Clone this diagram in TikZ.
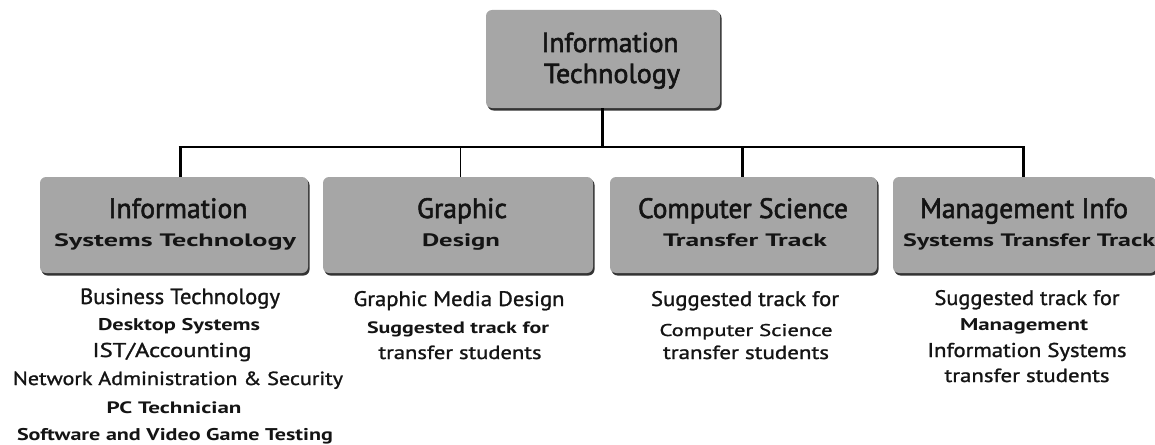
\documentclass[tikz,border=0pt]{standalone}
\usepackage{graphicx}
\usepackage{fontspec}
\setmainfont{PT Sans}
\newfontfamily\med{PT Sans}[FakeBold=1.2]
\newfontfamily\semi{PT Sans}[FakeBold=2]
\newdimen\fitdim
% \fl{size}{target width}{weight}{text}: text set at size, squeezed/stretched to width
\newcommand\fl[4]{\begingroup\fontsize{#1}{#1}\selectfont#3\setbox0\hbox{#4}\fitdim=\wd0\relax
  \pgfmathsetmacro\fitsx{#2/\fitdim}\scalebox{\fitsx}[1]{\box0}\endgroup}
\begin{document}
\begin{tikzpicture}[x=1pt,y=-1pt,
  box/.style={fill=boxgray,rounded corners=6pt},
  shadowbox/.style={fill=black!80,rounded corners=6pt},
  txt/.style={anchor=base,inner sep=0pt,text=black!92},
  thickline/.style={line width=3pt},
  midline/.style={line width=1.8pt},
  thinline/.style={line width=0.9pt}]
\definecolor{boxgray}{HTML}{A6A6A6}
\useasboundingbox (0,0) rectangle (1155,444);
% boxes: shadow then body
\foreach \xa/\ya/\xb/\yb/\n in {486/10/720/108/top,40/177/308/273/b1,323/177/593/273/b2,610/177/877/273/b3,893/177/1156/273/b4}{
  \fill[shadowbox] (\xa+1.5,\ya+2) rectangle (\xb+1.5,\yb+2.5);
  \fill[box] (\xa,\ya) rectangle (\xb,\yb);
}
% box texts
\node[txt] (ta) at (610,52) {\fl{27.5}{137}{\semi}{Information}};
\node[txt] (tb) at (612,83) {\fl{27.5}{136}{\semi}{Technology}};
\node[txt] (a1) at (178,218) {\fl{28}{139}{\semi}{Information}};
\node[txt] (a2) at (175,246) {\fl{18}{242}{\bfseries}{Systems Technology}};
\node[txt] (g1) at (462,218) {\fl{28}{90}{\semi}{Graphic}};
\node[txt] (g2) at (461,246) {\fl{18}{78}{\bfseries}{Design}};
\node[txt] (c1t) at (743,218) {\fl{28}{210}{\semi}{Computer Science}};
\node[txt] (c2t) at (745,246) {\fl{18}{164}{\bfseries}{Transfer Track}};
\node[txt] (m1) at (1024,218) {\fl{28}{208}{\semi}{Management Info}};
\node[txt] (m2) at (1029,246) {\fl{18}{252}{\bfseries}{Systems Transfer Track}};
% connectors
\coordinate (hub) at (602,147);
\coordinate (k1) at (180,147);
\coordinate (k2) at (460,147);
\coordinate (k3) at (742,147);
\coordinate (k4) at (1023,147);
\coordinate (e0) at (602,108);
\coordinate (e1) at (180,177);
\coordinate (e2) at (460,177);
\coordinate (e3) at (742,177);
\coordinate (e4) at (1023,177);
\draw[thickline] (e0) -- (hub);
\draw[midline] ([xshift=-1.5pt]k1) -- ([xshift=1.5pt]k4);
\draw[thickline] (k1) -- (e1);
\draw[thinline] (k2) -- (e2);
\draw[thickline] (k3) -- (e3);
\draw[thickline] (k4) -- (e4);
% column 1
\node[txt] (d11) at (180,304) {\fl{22}{200}{\med}{Business Technology}};
\node[txt] (d12) at (179,330) {\fl{17}{162}{\bfseries}{Desktop Systems}};
\node[txt] (d13) at (172,357) {\fl{20}{159}{\med}{IST/Accounting}};
\node[txt] (d14) at (178,385) {\fl{19}{330}{\med}{Network Administration \& Security}};
\node[txt] (d15) at (174,413) {\fl{16.5}{135}{\bfseries}{PC Technician}};
\node[txt] (d16) at (175,440) {\fl{17}{316}{\bfseries}{Software and Video Game Testing}};
% column 2
\node[txt] (d21) at (459,306) {\fl{21}{211}{\med}{Graphic Media Design}};
\node[txt] (d22) at (458,333) {\fl{16.5}{182}{\bfseries}{Suggested track for}};
\node[txt] (d23) at (460,359) {\fl{19}{163}{\med}{transfer students}};
% column 3
\node[txt] (d31) at (745,306) {\fl{21}{188}{\med}{Suggested track for}};
\node[txt] (d32) at (746,336) {\fl{17}{173}{\med}{Computer Science}};
\node[txt] (d33) at (746,359) {\fl{19}{166}{\med}{transfer students}};
% column 4
\node[txt] (d41) at (1027,305) {\fl{21}{185}{\med}{Suggested track for}};
\node[txt] (d42) at (1024,330) {\fl{17}{128}{\bfseries}{Management}};
\node[txt] (d43) at (1027,357) {\fl{20}{199}{\med}{Information Systems}};
\node[txt] (d44) at (1027,382) {\fl{19}{165}{\med}{transfer students}};
\end{tikzpicture}
\end{document}
